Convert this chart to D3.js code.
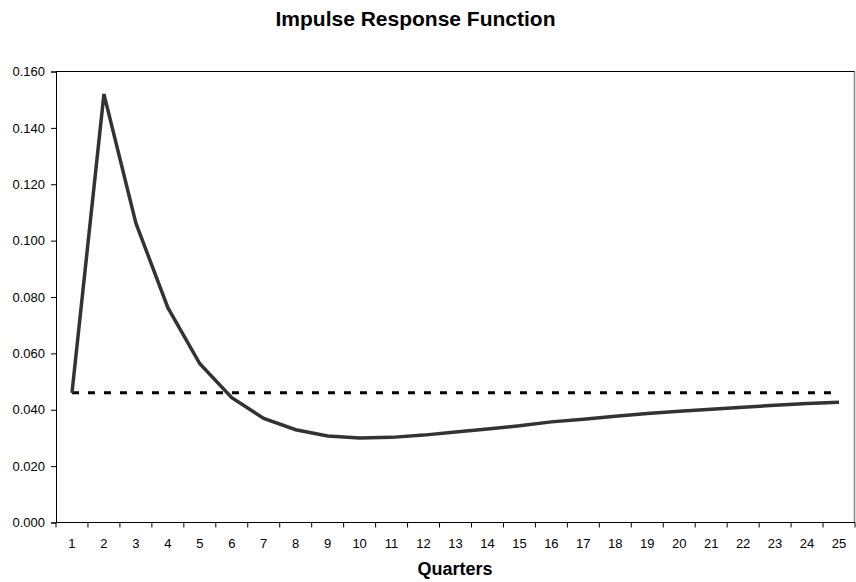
<!DOCTYPE html>
<html>
<head>
<meta charset="utf-8">
<script src="https://cdn.jsdelivr.net/npm/d3@7"></script>
<style>
  body { margin: 0; background: #fff; }
  svg { display: block; font-family: Arial, "Liberation Sans", sans-serif; }
</style>
</head>
<body>
<div id="chart"></div>
<script>
// quarters 1..25
const quarters = d3.range(1, 26).map(String);
// impulse response values
const response = [0.046, 0.152, 0.1062, 0.0762, 0.0563, 0.0443, 0.0369, 0.0329, 0.0307, 0.0300,
                  0.0302, 0.0310, 0.0321, 0.0332, 0.0343, 0.0357, 0.0366, 0.0377, 0.0387, 0.0395,
                  0.0402, 0.0409, 0.0416, 0.0422, 0.0427];
// steady-state reference level (dotted line)
const baseline = 0.046;
const yTicks = [0, 0.02, 0.04, 0.06, 0.08, 0.1, 0.12, 0.14, 0.16];

const W = 856, H = 582;
const m = { top: 71.5, right: 1, bottom: 59.5, left: 56 };

const svg = d3.select('#chart').append('svg')
  .attr('width', W).attr('height', H);

const x = d3.scaleBand().domain(quarters).range([m.left, W - m.right]);
const y = d3.scaleLinear().domain([0, 0.16]).range([H - m.bottom, m.top]);
const cx = q => x(q) + x.bandwidth() / 2;

// title
svg.append('text')
  .attr('x', 415.5).attr('y', 26)
  .attr('text-anchor', 'middle')
  .attr('font-size', '21px').attr('font-weight', 'bold')
  .text('Impulse Response Function');

// plot frame: top black, right grey
svg.append('line')
  .attr('x1', m.left).attr('x2', W - m.right)
  .attr('y1', y(0.16)).attr('y2', y(0.16))
  .attr('stroke', '#000').attr('stroke-width', 1);
svg.append('line')
  .attr('x1', W - m.right - 0.5).attr('x2', W - m.right - 0.5)
  .attr('y1', y(0.16)).attr('y2', y(0))
  .attr('stroke', '#888').attr('stroke-width', 1.5);

// y axis
const yAxis = svg.append('g')
  .attr('transform', `translate(${m.left},0)`)
  .call(d3.axisLeft(y).tickValues(yTicks).tickFormat(d3.format('.3f')).tickSize(5).tickPadding(6));
yAxis.selectAll('text').attr('font-size', '13px').attr('fill', '#000');
yAxis.selectAll('line, path').attr('stroke', '#000');

// x axis: ticks at category boundaries
const xAxisG = svg.append('g').attr('transform', `translate(0,${y(0)})`);
xAxisG.append('line')
  .attr('x1', m.left).attr('x2', W - m.right)
  .attr('stroke', '#000');
xAxisG.selectAll('line.tk')
  .data(quarters.concat(['end']))
  .join('line')
  .attr('class', 'tk')
  .attr('x1', (d, i) => i < quarters.length ? x(d) : x(quarters[quarters.length - 1]) + x.bandwidth())
  .attr('x2', (d, i) => i < quarters.length ? x(d) : x(quarters[quarters.length - 1]) + x.bandwidth())
  .attr('y1', 0).attr('y2', 5)
  .attr('stroke', '#000');
xAxisG.selectAll('text')
  .data(quarters)
  .join('text')
  .attr('x', cx).attr('y', 25.5)
  .attr('text-anchor', 'middle')
  .attr('font-size', '13px')
  .text(d => d);

// axis title
svg.append('text')
  .attr('x', 455).attr('y', 575)
  .attr('text-anchor', 'middle')
  .attr('font-size', '18px').attr('font-weight', 'bold')
  .text('Quarters');

// dotted reference line
svg.append('line')
  .attr('x1', cx(quarters[0])).attr('x2', cx(quarters[quarters.length - 1]))
  .attr('y1', y(baseline)).attr('y2', y(baseline))
  .attr('stroke', '#000').attr('stroke-width', 3)
  .attr('stroke-dasharray', '7,9');

// response line
const line = d3.line().x((d, i) => cx(quarters[i])).y(d => y(d));
svg.append('path')
  .datum(response)
  .attr('d', line)
  .attr('fill', 'none')
  .attr('stroke', '#333')
  .attr('stroke-width', 3.5)
  .attr('stroke-linejoin', 'miter');
</script>
</body>
</html>
